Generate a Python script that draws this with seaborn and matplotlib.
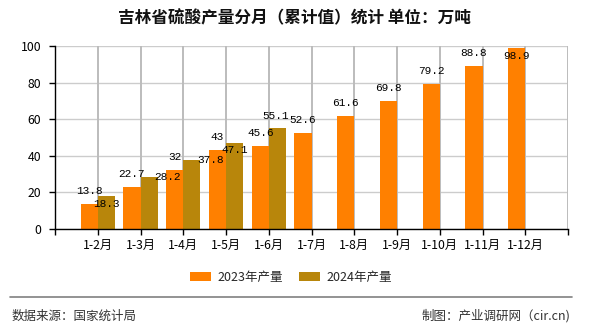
import matplotlib
matplotlib.use("Agg")
import matplotlib.pyplot as plt
import seaborn as sns
import pandas as pd
from matplotlib.lines import Line2D
from matplotlib.patches import Patch

months = ['1-2月', '1-3月', '1-4月', '1-5月', '1-6月', '1-7月', '1-8月',
          '1-9月', '1-10月', '1-11月', '1-12月']
v2023 = [13.8, 22.7, 32, 43, 45.6, 52.6, 61.6, 69.8, 79.2, 88.8, 98.9]
v2024 = [18.3, 28.2, 37.8, 47.1, 55.1]
series = ['2023年产量', '2024年产量']
colors = ['#FF8000', '#B8860B']
yticks = [0, 20, 40, 60, 80, 100]

# label offsets in pixels (dx, dy), mimicking the original's placement
off2023 = [(0, 13)] * 10 + [(0, -8)]
off2024 = [(0, -8.5), (18, 0), (19, 0), (0, -7), (-2, 12)]

rows = [(m, series[0], v) for m, v in zip(months, v2023)]
rows += [(m, series[1], v) for m, v in zip(months, v2024)]
df = pd.DataFrame(rows, columns=['month', 'series', 'value'])

sns.set_theme(style='white')
plt.rcParams['font.family'] = ['Noto Sans CJK SC', 'DejaVu Sans']

fig = plt.figure(figsize=(5.9, 3.3), dpi=100)
ax = fig.add_axes([55 / 590, 101 / 330, 513 / 590, 183 / 330])

sns.barplot(data=df, x='month', y='value', hue='series', order=months,
            hue_order=series, palette=colors, saturation=1, width=0.8,
            edgecolor='none', linewidth=0, ax=ax, legend=False, zorder=3)

ax.set_xlim(-1, len(months))
ax.set_ylim(0, 100)
ax.set_xlabel('')
ax.set_ylabel('')
ax.set_yticks(yticks)
ax.set_yticklabels([str(t) for t in yticks])
xt = list(range(-1, len(months) + 1))
ax.set_xticks(xt)
ax.set_xticklabels([''] + months + [''])
ax.yaxis.grid(True, color='#cccccc', linewidth=1, zorder=0)
for t in xt[1:]:
    ax.axvline(t, color='#bcbcbc', linewidth=1.4, zorder=2, snap=True)
for s in ['top', 'right']:
    ax.spines[s].set_visible(False)
for s in ['left', 'bottom']:
    ax.spines[s].set_color('black')
    ax.spines[s].set_linewidth(1)
    ax.spines[s].set_zorder(4)
ax.tick_params(axis='both', which='major', direction='out', length=4,
               width=1, color='black', labelsize=8.8, labelcolor='black',
               bottom=True, left=True)
ax.tick_params(axis='x', pad=3)
ax.tick_params(axis='y', pad=6)

for cont, offs, vals in [(ax.containers[0], off2023, v2023),
                         (ax.containers[1], off2024, v2024)]:
    for bar, (dx, dy), v in zip(cont, offs, vals):
        x = bar.get_x() + bar.get_width() / 2
        ax.annotate(f'{v:g}', xy=(x, bar.get_height()), xytext=(dx, dy),
                    textcoords='offset pixels', ha='center', va='center',
                    fontsize=8, family=['Liberation Mono', 'DejaVu Sans Mono'],
                    color='black', annotation_clip=False, zorder=5)

fig.text(294 / 590, 1 - 18 / 330, '吉林省硫酸产量分月（累计值）统计 单位：万吨',
         ha='center', va='center', fontsize=12, fontweight='bold',
         color='#111111')

handles = [Patch(facecolor=c, edgecolor='none', label=l)
           for c, l in zip(colors, series)]
fig.legend(handles=handles, loc='center', bbox_to_anchor=(291 / 590, 1 - 277 / 330),
           ncol=2, frameon=False, fontsize=9, handlelength=1.7,
           handleheight=0.72, handletextpad=0.5, columnspacing=1.3)

fig.add_artist(Line2D([10 / 590, 572 / 590], [1 - 297 / 330, 1 - 297 / 330],
                      transform=fig.transFigure, color='#808080', linewidth=1.2))
fig.text(12 / 590, 1 - 316 / 330, '数据来源：国家统计局', ha='left', va='center',
         fontsize=9, color='#333333')
fig.text(570 / 590, 1 - 316 / 330, '制图：产业调研网（cir.cn)', ha='right',
         va='center', fontsize=9, color='#333333')

fig.savefig('out.png', dpi=100)
